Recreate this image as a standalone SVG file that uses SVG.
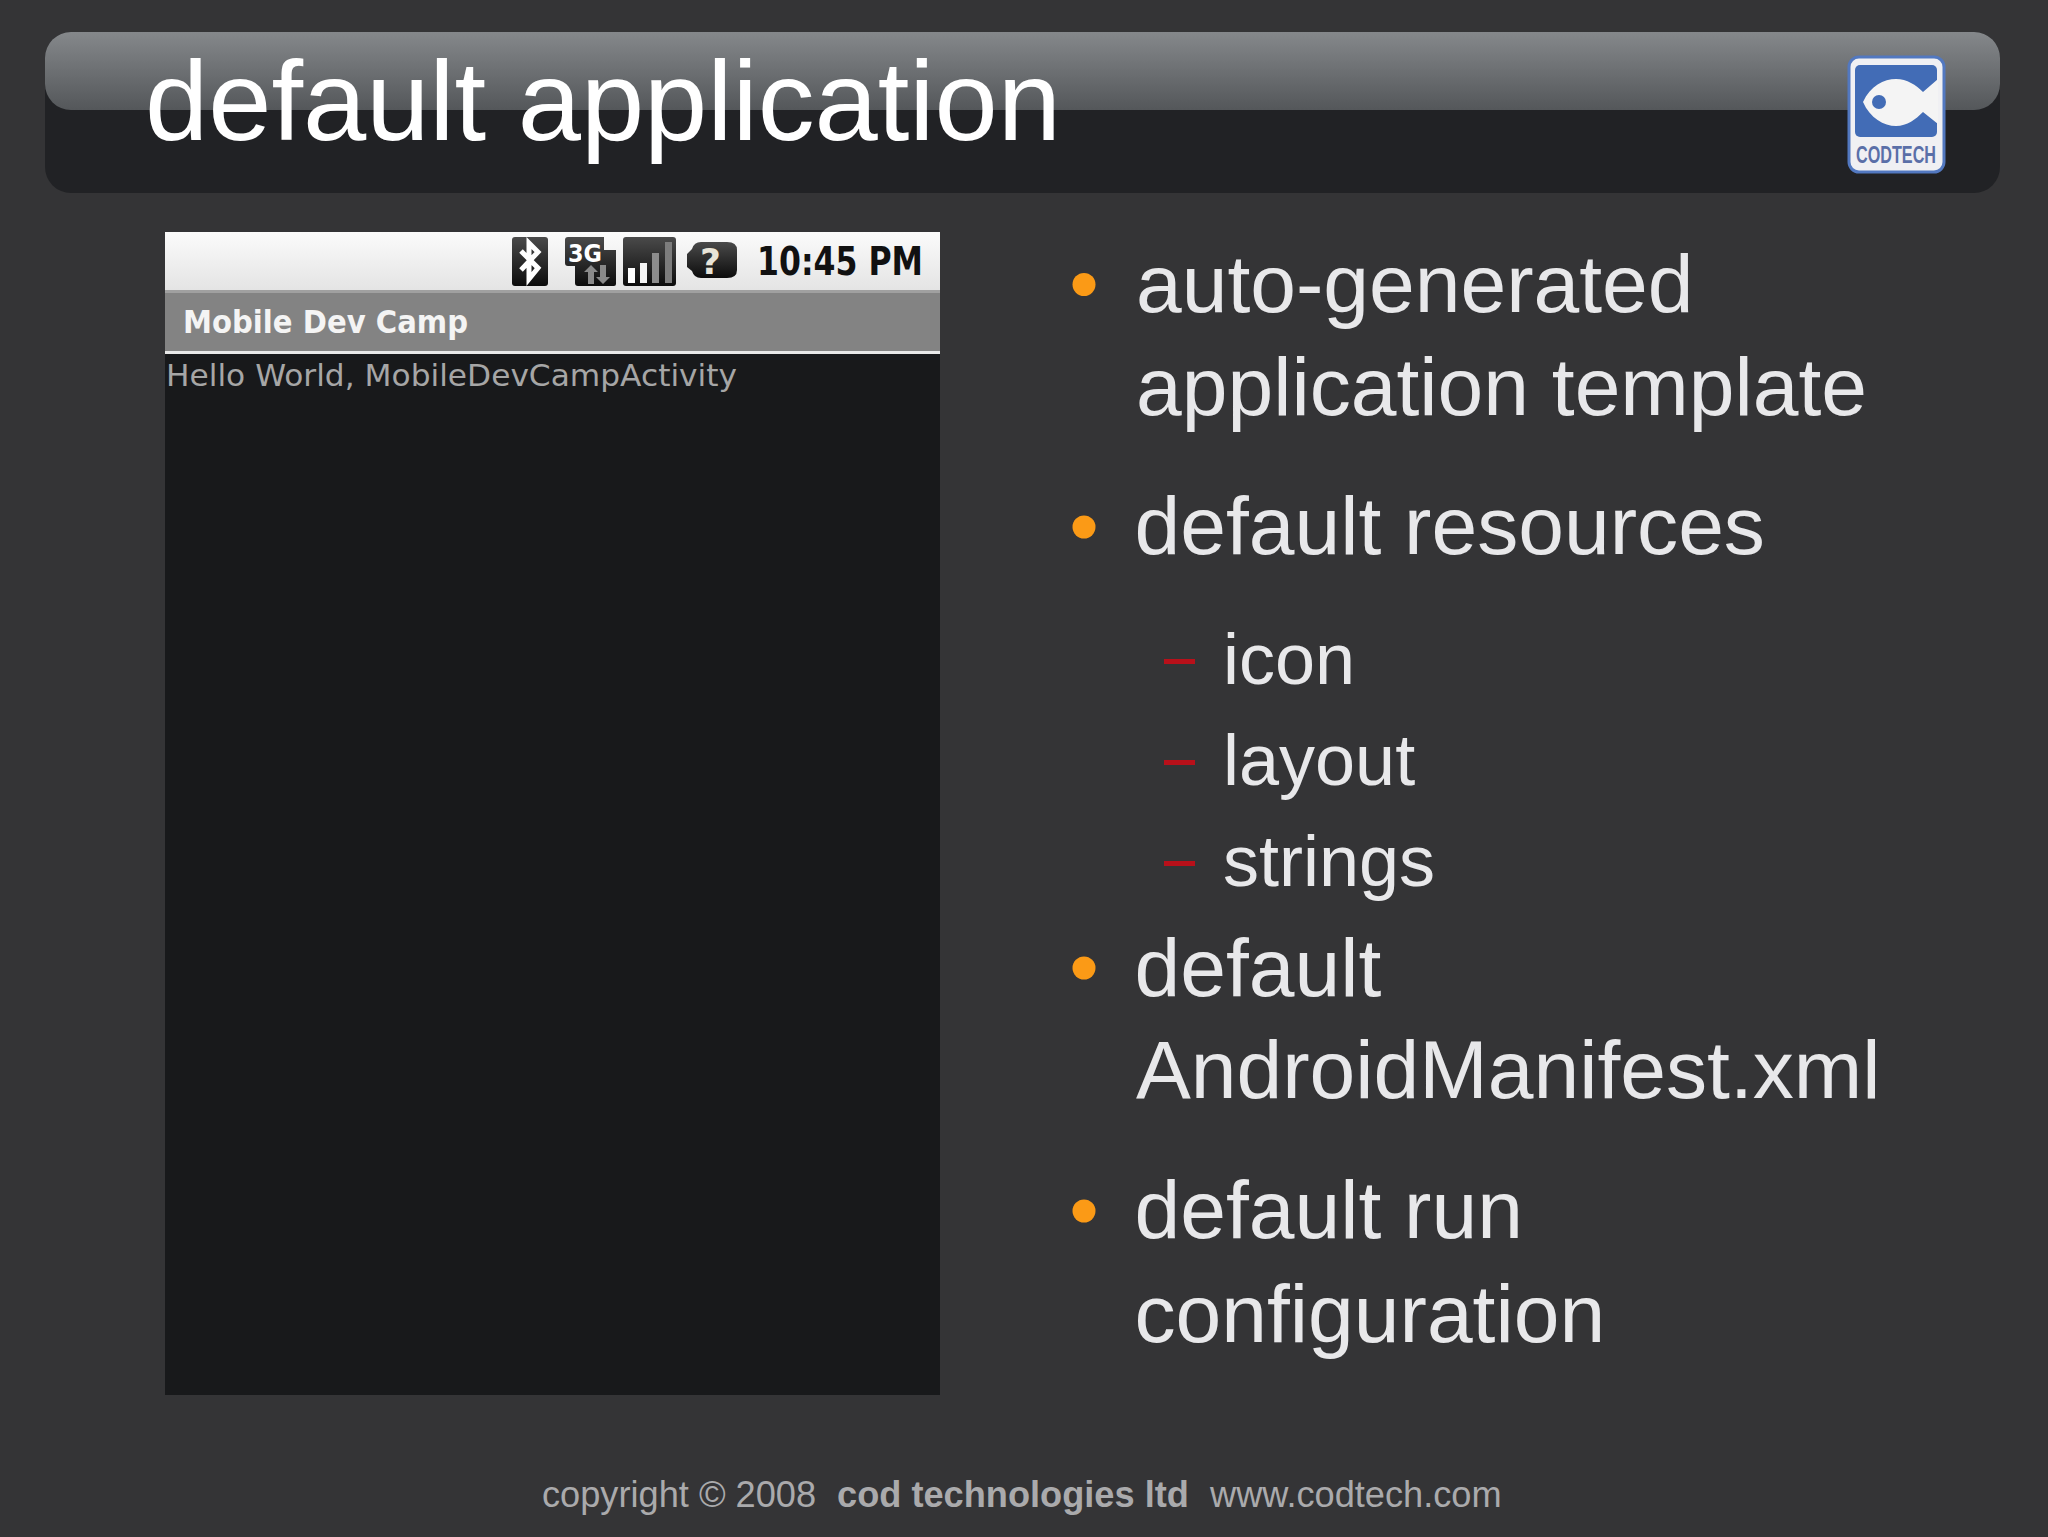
<svg xmlns="http://www.w3.org/2000/svg" width="2048" height="1537" viewBox="0 0 2048 1537">
<style>
.t{font-family:"Liberation Sans",Arial,sans-serif;fill:#e8e8ea}
.b{font-size:82.2px}
.s{font-size:72px}
.f{font-family:"Liberation Sans",Arial,sans-serif;font-size:36.2px;fill:#aaaaac}
.d{font-family:"DejaVu Sans",sans-serif}
.o{fill:#fb9a16}
.r{fill:#b8101a}
</style>
<defs>
<linearGradient id="g" x1="0" y1="0" x2="0" y2="1"><stop offset="0" stop-color="#85888b"/><stop offset="1" stop-color="#54575a"/></linearGradient>
<linearGradient id="sb" x1="0" y1="0" x2="0" y2="1"><stop offset="0" stop-color="#fbfbfb"/><stop offset="1" stop-color="#e4e4e4"/></linearGradient>
<linearGradient id="ic" x1="0" y1="0" x2="0" y2="1"><stop offset="0" stop-color="#4a4a4a"/><stop offset="1" stop-color="#0c0c0c"/></linearGradient>
</defs>
<rect width="2048" height="1537" fill="#343436"/>
<g id="header">
<rect x="45" y="32" width="1955" height="161" rx="26" fill="#212225"/>
<rect x="45" y="32" width="1955" height="78" rx="26" fill="url(#g)"/>
<text x="145" y="140" font-family="'Liberation Sans',Arial,sans-serif" font-size="114" fill="#fff" textLength="916" lengthAdjust="spacingAndGlyphs">default application</text>
</g>
<g id="logo">
<rect x="1849" y="57" width="95" height="115" rx="10" fill="#f0f0f3" stroke="#5278c0" stroke-width="3"/>
<rect x="1855" y="65" width="82" height="72" rx="5" fill="#426cb6"/>
<path d="M1863 102C1870 86 1884 79 1896 79C1907 79 1916 85 1923 92L1938 79V124L1923 112C1916 119 1907 126 1896 126C1884 126 1870 118 1863 102Z" fill="#f4f4f4"/>
<circle cx="1879" cy="102" r="7" fill="#426cb6"/>
<text x="1856" y="163" font-family="'Liberation Sans',Arial,sans-serif" font-size="24" font-weight="bold" fill="#5a6fa8" textLength="80" lengthAdjust="spacingAndGlyphs">CODTECH</text>
</g>
<g id="phone">
<rect x="165" y="232" width="775" height="1163" fill="#18191b"/>
<rect x="165" y="232" width="775" height="58" fill="url(#sb)"/>
<rect x="165" y="290" width="775" height="61" fill="#838383"/>
<rect x="165" y="290" width="775" height="3" fill="#a0a0a0"/>
<rect x="165" y="351" width="775" height="3" fill="#e8e8e8"/>
<rect x="512" y="237" width="36" height="49" rx="3" fill="url(#ic)"/>
<path d="M521 251L538 268L529 279V243L538 252L521 270" fill="none" stroke="#fff" stroke-width="5"/>
<path d="M565 240Q565 237 568 237H604V250H616V284Q616 286 614 286H578Q575 286 575 283V266H568Q565 266 565 263Z" fill="url(#ic)"/>
<text x="568" y="262" class="d" font-size="25" font-weight="bold" fill="#fff" textLength="34" lengthAdjust="spacingAndGlyphs">3G</text>
<path d="M588 284V272H584L591 265L598 272H594V284ZM600 265V277H596L603 284L610 277H606V265Z" fill="#8a8a8a"/>
<rect x="623" y="237" width="53" height="49" rx="3" fill="url(#ic)"/>
<rect x="628" y="268" width="7" height="15" fill="#fff"/>
<rect x="640" y="263" width="7" height="20" fill="#f4f4f4"/>
<rect x="652" y="253" width="7" height="30" fill="#8c8c8c"/>
<rect x="665" y="242" width="7" height="41" fill="#7c7c7c"/>
<path d="M692 249Q694 242 701 242H727Q737 242 737 250V270Q737 278 727 278H701Q694 278 692 271L687 267V254Z" fill="url(#ic)"/>
<text x="700" y="274" class="d" font-size="36" font-weight="bold" fill="#e8e4d8">?</text>
<text x="757" y="275" class="d" font-size="39" font-weight="bold" fill="#111" textLength="166" lengthAdjust="spacingAndGlyphs">10:45 PM</text>
<text x="183" y="333" class="d" font-size="32" font-weight="bold" fill="#f4f4f4" textLength="285" lengthAdjust="spacingAndGlyphs">Mobile Dev Camp</text>
<text x="166" y="386" class="d" font-size="31" fill="#a6a6a6" textLength="571" lengthAdjust="spacingAndGlyphs">Hello World, MobileDevCampActivity</text>
</g>
<g id="bullets">
<circle class="o" cx="1084" cy="284.500" r="11.500"/>
<text class="t b" x="1136" y="312">auto-generated</text>
<text class="t b" x="1136" y="415">application template</text>
<circle class="o" cx="1084" cy="527" r="11.500"/>
<text class="t b" x="1134.500" y="554">default resources</text>
<rect class="r" x="1164" y="659" width="31" height="5"/>
<text class="t s" x="1223" y="684">icon</text>
<rect class="r" x="1164" y="760" width="31" height="5"/>
<text class="t s" x="1223" y="785">layout</text>
<rect class="r" x="1164" y="861" width="31" height="5"/>
<text class="t s" x="1223" y="886">strings</text>
<circle class="o" cx="1084" cy="968" r="11.500"/>
<text class="t b" x="1134.500" y="996">default</text>
<text class="t b" x="1136" y="1098">AndroidManifest.xml</text>
<circle class="o" cx="1084" cy="1211" r="11.500"/>
<text class="t b" x="1134.500" y="1238">default run</text>
<text class="t b" x="1134.500" y="1342">configuration</text>
</g>
<g id="footer">
<text class="f" x="542" y="1507">copyright © 2008</text>
<text class="f" x="837" y="1507" font-weight="bold">cod technologies ltd</text>
<text class="f" x="1210" y="1507">www.codtech.com</text>
</g>
</svg>
